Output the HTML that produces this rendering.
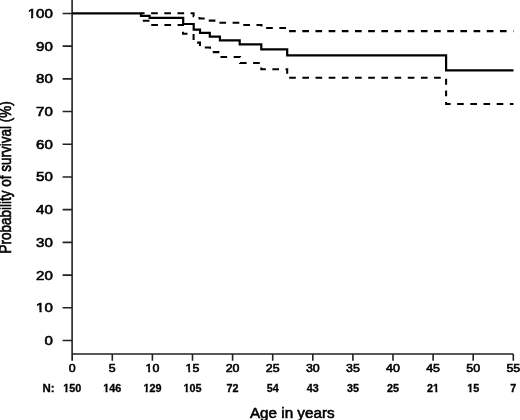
<!DOCTYPE html>
<html><head><meta charset="utf-8"><style>
html,body{margin:0;padding:0;background:#fff;}
body{width:520px;height:420px;overflow:hidden;}
svg{display:block;filter:grayscale(1);}
text{font-family:"Liberation Sans",sans-serif;fill:#000;stroke:#000;stroke-width:0.55px;}
.yl{font-size:13.2px;stroke-width:0.6px;}
.xl{font-size:11.5px;stroke-width:0.6px;}
.nl{font-size:10.5px;font-weight:bold;stroke-width:0.3px;}
.wm{fill:#fff;stroke:none;}
.at{font-size:13.8px;}
.rt{font-size:13.5px;}
.ax{stroke:#222;stroke-width:1.6;fill:none;}
.so{stroke:#000;stroke-width:2.2;fill:none;stroke-linejoin:miter;}
.ci{stroke:#000;stroke-width:2.05;fill:none;stroke-linejoin:miter;}
</style></head><body>
<svg width="520" height="420" viewBox="0 0 520 420">
<path d="M72.1 0V360.8M72.1 353.95H513.3M62.6 340.50H72.1M62.6 307.79H72.1M62.6 275.09H72.1M62.6 242.38H72.1M62.6 209.67H72.1M62.6 176.97H72.1M62.6 144.26H72.1M62.6 111.55H72.1M62.6 78.84H72.1M62.6 46.14H72.1M62.6 13.43H72.1M72.20 353.95V360.8M112.30 353.95V360.8M152.40 353.95V360.8M192.50 353.95V360.8M232.60 353.95V360.8M272.70 353.95V360.8M312.80 353.95V360.8M352.90 353.95V360.8M393.00 353.95V360.8M433.10 353.95V360.8M473.20 353.95V360.8M513.30 353.95V360.8" class="ax"/>
<path d="M141.00 13.30L144.61 13.30M151.12 13.30L157.78 13.30M164.29 13.30L170.96 13.30M177.47 13.30L184.14 13.30M190.64 13.30L193.60 13.30L193.60 16.10L194.15 16.10M199.50 17.12L199.50 18.40L204.72 18.40M208.75 20.60L215.41 20.60M219.44 22.80L226.10 22.80M232.61 22.80L239.28 22.80M243.30 25.00L249.97 25.00M256.48 25.00L261.50 25.00L261.50 26.46M266.17 28.08L272.84 28.08M279.35 28.08L286.02 28.08M289.11 31.10L295.78 31.10M302.29 31.10L308.96 31.10M315.46 31.10L322.13 31.10M328.64 31.10L335.31 31.10M341.82 31.10L348.48 31.10M354.99 31.10L361.66 31.10M368.17 31.10L374.83 31.10M381.34 31.10L388.01 31.10M394.52 31.10L401.19 31.10M407.69 31.10L414.36 31.10M420.87 31.10L427.54 31.10M434.05 31.10L440.71 31.10M447.22 31.10L453.89 31.10M460.40 31.10L467.06 31.10M473.57 31.10L480.24 31.10M486.75 31.10L493.42 31.10M499.93 31.10L506.59 31.10M513.10 31.10L513.50 31.10" class="ci"/>
<path d="M141.00 13.30L141.00 16.53M142.80 20.70L149.47 20.70M151.23 24.90L157.90 24.90M164.41 24.90L171.07 24.90M177.58 24.90L183.00 24.90L183.00 26.00M183.00 31.76L183.00 33.70L187.48 33.70M193.60 34.04L193.60 39.94M197.11 42.60L200.00 42.60L200.00 45.94M204.75 47.50L210.00 47.50L210.00 48.75M212.72 52.10L219.39 52.10M220.48 56.90L227.14 56.90M233.65 56.90L240.00 56.90L240.00 57.18M240.00 62.94L240.00 63.00L246.60 63.00M253.11 63.00L259.78 63.00M261.30 67.41L261.30 69.29L265.85 69.29M272.35 69.29L279.02 69.29M285.53 69.29L287.20 69.29L287.20 73.71M289.16 77.74L295.82 77.74M302.33 77.74L309.00 77.74M315.51 77.74L322.18 77.74M328.69 77.74L335.35 77.74M341.86 77.74L348.53 77.74M355.04 77.74L361.70 77.74M368.21 77.74L374.88 77.74M381.39 77.74L388.06 77.74M394.56 77.74L401.23 77.74M407.74 77.74L414.41 77.74M420.92 77.74L427.58 77.74M434.09 77.74L440.76 77.74M446.10 78.77L446.10 84.67M446.10 90.43L446.10 96.33M446.10 102.09L446.10 104.00L450.61 104.00M457.12 104.00L463.79 104.00M470.30 104.00L476.96 104.00M483.47 104.00L490.14 104.00M496.65 104.00L503.32 104.00M509.82 104.00L513.50 104.00" class="ci"/>
<path d="M72.20 13.30L141.00 13.30L141.00 15.90L149.60 15.90L149.60 17.90L183.20 17.90L183.20 24.00L193.70 24.00L193.70 29.60L200.00 29.60L200.00 32.90L209.80 32.90L209.80 36.70L219.90 36.70L219.90 40.38L239.70 40.38L239.70 44.43L261.30 44.43L261.30 49.43L287.20 49.43L287.20 55.45L446.10 55.45L446.10 70.39L513.50 70.39" class="so"/>
<g transform="translate(44.49,345.00) scale(1.1450,1)"><text class="yl">0</text></g>
<g transform="translate(36.09,312.29) scale(1.1450,1)"><text class="yl">10</text><rect x="0.06" y="-2.29" width="2.86" height="3.59" class="wm"/><rect x="4.88" y="-2.29" width="2.34" height="3.59" class="wm"/></g>
<g transform="translate(36.09,279.59) scale(1.1450,1)"><text class="yl">20</text></g>
<g transform="translate(36.09,246.88) scale(1.1450,1)"><text class="yl">30</text></g>
<g transform="translate(36.09,214.17) scale(1.1450,1)"><text class="yl">40</text></g>
<g transform="translate(36.09,181.47) scale(1.1450,1)"><text class="yl">50</text></g>
<g transform="translate(36.09,148.76) scale(1.1450,1)"><text class="yl">60</text></g>
<g transform="translate(36.09,116.05) scale(1.1450,1)"><text class="yl">70</text></g>
<g transform="translate(36.09,83.34) scale(1.1450,1)"><text class="yl">80</text></g>
<g transform="translate(36.09,50.64) scale(1.1450,1)"><text class="yl">90</text></g>
<g transform="translate(27.68,17.93) scale(1.1450,1)"><text class="yl">100</text><rect x="0.06" y="-2.29" width="2.86" height="3.59" class="wm"/><rect x="4.88" y="-2.29" width="2.34" height="3.59" class="wm"/></g>
<g transform="translate(68.75,372.10) scale(1.0800,1)"><text class="xl">0</text></g>
<g transform="translate(108.85,372.10) scale(1.0800,1)"><text class="xl">5</text></g>
<g transform="translate(145.49,372.10) scale(1.0800,1)"><text class="xl">10</text><rect x="0.06" y="-2.16" width="2.42" height="3.46" class="wm"/><rect x="4.32" y="-2.16" width="1.96" height="3.46" class="wm"/></g>
<g transform="translate(185.59,372.10) scale(1.0800,1)"><text class="xl">15</text><rect x="0.06" y="-2.16" width="2.42" height="3.46" class="wm"/><rect x="4.32" y="-2.16" width="1.96" height="3.46" class="wm"/></g>
<g transform="translate(225.69,372.10) scale(1.0800,1)"><text class="xl">20</text></g>
<g transform="translate(265.79,372.10) scale(1.0800,1)"><text class="xl">25</text></g>
<g transform="translate(305.89,372.10) scale(1.0800,1)"><text class="xl">30</text></g>
<g transform="translate(345.99,372.10) scale(1.0800,1)"><text class="xl">35</text></g>
<g transform="translate(386.09,372.10) scale(1.0800,1)"><text class="xl">40</text></g>
<g transform="translate(426.19,372.10) scale(1.0800,1)"><text class="xl">45</text></g>
<g transform="translate(466.29,372.10) scale(1.0800,1)"><text class="xl">50</text></g>
<g transform="translate(506.39,372.10) scale(1.0800,1)"><text class="xl">55</text></g>
<g transform="translate(42.60,392.30) scale(1.0900,1)"><text class="nl">N:</text></g>
<g transform="translate(63.18,392.30) scale(1.0300,1)"><text class="nl">150</text><rect x="0.05" y="-2.22" width="2.11" height="3.52" class="wm"/><rect x="4.18" y="-2.22" width="1.56" height="3.52" class="wm"/></g>
<g transform="translate(103.28,392.30) scale(1.0300,1)"><text class="nl">146</text><rect x="0.05" y="-2.22" width="2.11" height="3.52" class="wm"/><rect x="4.18" y="-2.22" width="1.56" height="3.52" class="wm"/></g>
<g transform="translate(143.38,392.30) scale(1.0300,1)"><text class="nl">129</text><rect x="0.05" y="-2.22" width="2.11" height="3.52" class="wm"/><rect x="4.18" y="-2.22" width="1.56" height="3.52" class="wm"/></g>
<g transform="translate(183.48,392.30) scale(1.0300,1)"><text class="nl">105</text><rect x="0.05" y="-2.22" width="2.11" height="3.52" class="wm"/><rect x="4.18" y="-2.22" width="1.56" height="3.52" class="wm"/></g>
<g transform="translate(226.59,392.30) scale(1.0300,1)"><text class="nl">72</text></g>
<g transform="translate(266.69,392.30) scale(1.0300,1)"><text class="nl">54</text></g>
<g transform="translate(306.79,392.30) scale(1.0300,1)"><text class="nl">43</text></g>
<g transform="translate(346.89,392.30) scale(1.0300,1)"><text class="nl">35</text></g>
<g transform="translate(386.99,392.30) scale(1.0300,1)"><text class="nl">25</text></g>
<g transform="translate(427.09,392.30) scale(1.0300,1)"><text class="nl">21</text><rect x="5.89" y="-2.22" width="2.11" height="3.52" class="wm"/><rect x="10.02" y="-2.22" width="1.56" height="3.52" class="wm"/></g>
<g transform="translate(467.19,392.30) scale(1.0300,1)"><text class="nl">15</text><rect x="0.05" y="-2.22" width="2.11" height="3.52" class="wm"/><rect x="4.18" y="-2.22" width="1.56" height="3.52" class="wm"/></g>
<g transform="translate(510.29,392.30) scale(1.0300,1)"><text class="nl">7</text></g>
<text transform="translate(249.90,417.90) scale(1.105,1)" class="at">Age in years</text>
<text transform="translate(11.40,253.40) scale(1.160,1) rotate(-90)" class="rt">Probability of survival (%)</text>
</svg>
</body></html>
